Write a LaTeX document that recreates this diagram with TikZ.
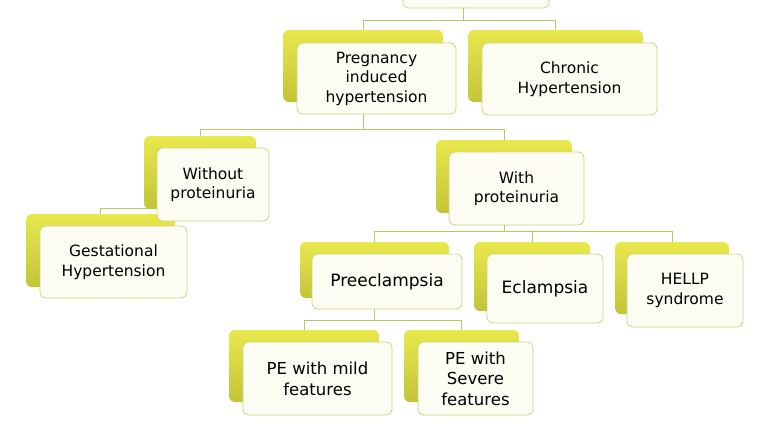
\documentclass[tikz,border=0pt]{standalone}
\usepackage{fontspec}
\setmainfont{DejaVu Sans}
\usetikzlibrary{positioning}

\definecolor{leafback}{RGB}{232,232,76}
\definecolor{leafdark}{RGB}{194,196,56}
\definecolor{leafline}{RGB}{205,214,126}
\definecolor{leaffill}{RGB}{252,252,242}
\definecolor{linkline}{RGB}{186,198,104}

\tikzset{
  backbox/.style={rounded corners=6pt,top color=leafback,bottom color=leafdark,draw=none},
  frontbox/.style={rounded corners=6pt,fill=leaffill,draw=leafline,line width=0.8pt,
    align=center,text=black,font=\fontsize{15.5}{19.5}\selectfont,inner sep=0pt},
  bigtext/.style={font=\fontsize{17}{21}\selectfont},
  link/.style={draw=linkline,line width=0.8pt}
}

\begin{document}
\begin{tikzpicture}[x=1pt,y=-1pt]
  \useasboundingbox (0,0) rectangle (759,426);
  \clip (0,0) rectangle (759,426);
  \fill[white] (0,0) rectangle (759,426);

  % back boxes
  \node[backbox,minimum width=146pt,minimum height=70pt] (topb) at (463,-39) {};
  \node[backbox,minimum width=160pt,minimum height=72pt] (pregb) at (363,66) {};
  \node[backbox,minimum width=175pt,minimum height=72pt] (chronb) at (555.5,66) {};
  \node[backbox,minimum width=112pt,minimum height=73pt] (withoutb) at (200,172.5) {};
  \node[backbox,minimum width=136pt,minimum height=73pt] (withb) at (504,176.5) {};
  \node[backbox,minimum width=149pt,minimum height=73pt] (gestb) at (100.5,250.5) {};
  \node[backbox,minimum width=149pt,minimum height=56pt] (preb) at (374.5,270) {};
  \node[backbox,minimum width=116pt,minimum height=69pt] (eclb) at (532,276.5) {};
  \node[backbox,minimum width=114pt,minimum height=72pt] (hellpb) at (672,278) {};
  \node[backbox,minimum width=150pt,minimum height=72pt] (mildb) at (304,366) {};
  \node[backbox,minimum width=115pt,minimum height=72pt] (sevb) at (461.5,366) {};

  % front boxes
  \node[frontbox,minimum width=146pt,minimum height=70pt] (top) at (476,-27) {};
  \node[frontbox,minimum width=159pt,minimum height=71pt] (preg) at (376.5,78.5)
    {Pregnancy\\induced\\hypertension};
  \node[frontbox,minimum width=175pt,minimum height=72pt] (chron) at (569.5,79)
    {Chronic\\Hypertension};
  \node[frontbox,minimum width=112pt,minimum height=73pt] (without) at (213,184.5)
    {Without\\proteinuria};
  \node[frontbox,minimum width=135pt,minimum height=73pt] (with) at (516.5,188.5)
    {With\\proteinuria};
  \node[frontbox,minimum width=147pt,minimum height=72pt] (gest) at (113.5,262)
    {Gestational\\Hypertension};
  \node[frontbox,bigtext,minimum width=150pt,minimum height=55pt] (pre) at (387,281.5)
    {Preeclampsia};
  \node[frontbox,bigtext,minimum width=116pt,minimum height=69pt] (ecl) at (545,288.5)
    {Eclampsia};
  \node[frontbox,minimum width=116pt,minimum height=73pt] (hellp) at (685,290.5)
    {HELLP\\syndrome};
  \node[frontbox,font=\fontsize{16.5}{21}\selectfont,minimum width=149pt,minimum height=73pt] (mild) at (317.5,378.5)
    {PE with mild\\features};
  \node[frontbox,font=\fontsize{16.5}{20.5}\selectfont,minimum width=115pt,minimum height=73pt] (sev) at (475.5,378.5)
    {PE with\\Severe\\features};

  % connectors
  \draw[link] (topb |- top.south) -- ++(0,12) -| (pregb.north);
  \draw[link] (topb |- top.south) -- ++(0,12) -| (chronb.north);
  \draw[link] (pregb |- preg.south) -- ++(0,15) -| (withoutb.north);
  \draw[link] (pregb |- preg.south) -- ++(0,15) -| (withb.north);
  \draw[link] ([xshift=6pt,yshift=1pt]withoutb.south west) -| (gestb.north);
  \draw[link] (withb |- with.south) -- ++(0,6) -| (preb.north);
  \draw[link] (withb |- with.south) -- ++(0,6) -| (eclb.north);
  \draw[link] (withb |- with.south) -- ++(0,6) -| (hellpb.north);
  \draw[link] (preb |- pre.south) -- ++(0,11) -| (mildb.north);
  \draw[link] (preb |- pre.south) -- ++(0,11) -| (sevb.north);
\end{tikzpicture}
\end{document}
